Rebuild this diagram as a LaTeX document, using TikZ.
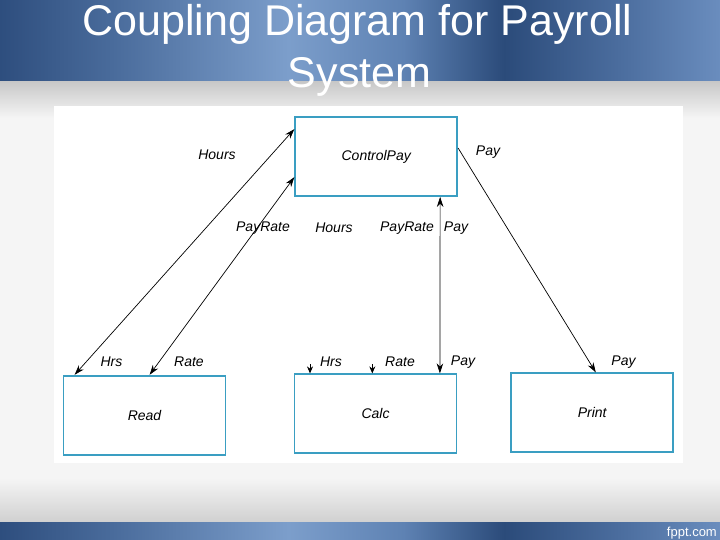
\documentclass[tikz,border=0pt]{standalone}
\usepackage{fontspec}
\setmainfont{Liberation Sans}
\usetikzlibrary{arrows.meta}
\definecolor{boxc}{HTML}{3A9EC2}
\definecolor{pagebg}{HTML}{F5F5F5}
\definecolor{grayA}{HTML}{C6C6C6}
\definecolor{grayB}{HTML}{D0D0D0}
\definecolor{bA}{HTML}{2E4E7E}
\definecolor{bB}{HTML}{4A6C9C}
\definecolor{bC}{HTML}{7C9ECB}
\definecolor{bD}{HTML}{5E82B3}
\definecolor{bE}{HTML}{2B4B7A}
\definecolor{bF}{HTML}{4B6D9E}
\definecolor{bG}{HTML}{6A8DBE}
\pgfdeclarehorizontalshading{bandshade}{100bp}{color(0bp)=(bA); color(25bp)=(bA); color(33bp)=(bB); color(45bp)=(bC); color(53bp)=(bD); color(60bp)=(bE); color(68bp)=(bF); color(75bp)=(bG); color(100bp)=(bG)}
\begin{document}
\begin{tikzpicture}[x=1pt,y=-1pt,
  lab/.style={font=\fontsize{14}{16}\selectfont\itshape, inner sep=0pt},
  module/.style={draw=boxc, line width=1.8pt, fill=white, minimum width=162pt, minimum height=79pt, inner sep=0pt, font=\fontsize{14}{16}\selectfont\itshape},
  conn/.style={line width=0.7pt, {Stealth[length=10pt,width=6.5pt]}-{Stealth[length=10pt,width=6.5pt]}},
  oneway/.style={line width=0.7pt, -{Stealth[length=10pt,width=6.5pt]}},
  stub/.style={line width=0.7pt, -{Stealth[length=7pt,width=6pt]}},
  ttl/.style={text=white, font=\fontsize{43}{51}\selectfont, inner sep=0pt}]
\useasboundingbox (0,0) rectangle (720,540);
% background
\fill[pagebg] (0,0) rectangle (720,540);
\shade[top color=grayA, bottom color=pagebg] (0,80) rectangle (720,118);
\shade[top color=pagebg, bottom color=grayB] (0,478) rectangle (720,522);
\shade[shading=bandshade] (0,0) rectangle (720,81);
\shade[shading=bandshade] (0,522) rectangle (720,540);
\fill[white] (54,106) rectangle (683,463);
% title
\node[ttl, anchor=base] (t1) at (357.5,36) {Coupling Diagram for Payroll};
\node[ttl, anchor=base] (t2) at (359.5,88) {System};
\node[text=white, font=\fontsize{13}{15}\selectfont, inner sep=0pt, anchor=base east] (web) at (717,536) {fppt.com};
% modules
\node[module] (cp) at (376.25,156.5) {ControlPay};
\node[module] (read) at (144.5,415.2) {Read};
\node[module] (calc) at (375.5,413.8) {Calc};
\node[module] (print) at (592.2,412.8) {Print};
% connectors
\draw[conn] ([xshift=12pt]read.north west) -- ([yshift=-13pt]cp.north west);
\draw[conn] ([xshift=87pt]read.north west) -- ([yshift=-61pt]cp.north west);
\draw[conn] ([xshift=-17.5pt]calc.north east) -- ([xshift=-18pt]cp.south east);
\draw[oneway] ([yshift=-32pt]cp.north east) -- ([xshift=85.5pt]print.north west);
\coordinate (s1) at ([xshift=16.4pt,yshift=9pt]calc.north west);
\coordinate (s2) at ([xshift=78.7pt,yshift=9pt]calc.north west);
\draw[stub] (s1) -- ([xshift=16.4pt]calc.north west);
\draw[stub] (s2) -- ([xshift=78.7pt]calc.north west);
% labels
\node[lab] (l1) at (217,155) {Hours};
\node[lab] (l2) at (488,152) {Pay};
\node[lab] (l3) at (263,228) {PayRate};
\node[lab] (l4) at (334,228) {Hours};
\node[lab] (l5) at (407,228) {PayRate};
\node[lab] (l6) at (456,228) {Pay};
\node[lab] (l7) at (111.5,362) {Hrs};
\node[lab] (l8) at (189,362) {Rate};
\node[lab] (l9) at (331,362) {Hrs};
\node[lab] (l10) at (400,362) {Rate};
\node[lab] (l11) at (463,362) {Pay};
\node[lab] (l12) at (623.5,362) {Pay};
\end{tikzpicture}
\end{document}
